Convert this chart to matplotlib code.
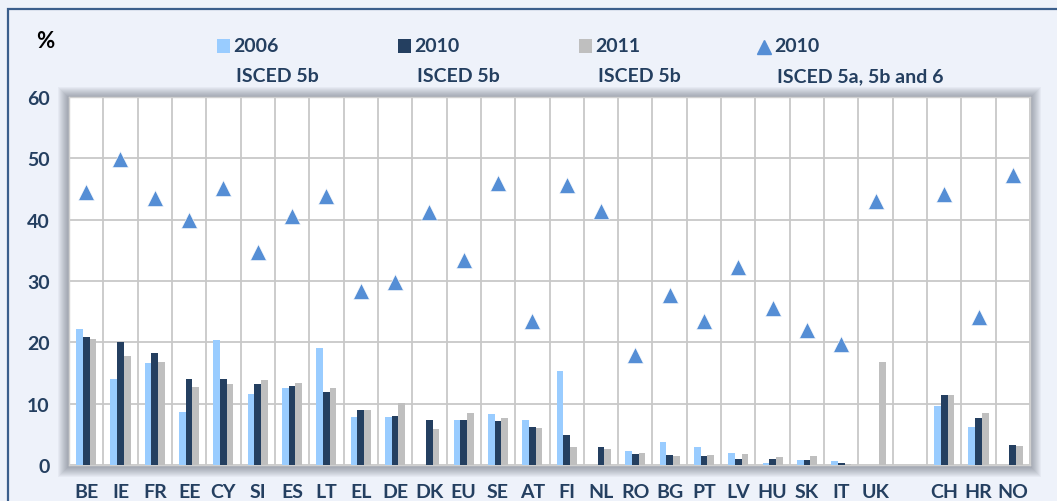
import matplotlib
matplotlib.use("Agg")
import matplotlib.pyplot as plt
import numpy as np
from matplotlib.patches import Rectangle
from matplotlib.lines import Line2D

nan = np.nan

# donnees
pays = ['BE', 'IE', 'FR', 'EE', 'CY', 'SI', 'ES', 'LT', 'EL', 'DE', 'DK', 'EU', 'SE', 'AT',
        'FI', 'NL', 'RO', 'BG', 'PT', 'LV', 'HU', 'SK', 'IT', 'UK', '', 'CH', 'HR', 'NO']
v2006 = [22.1, 14.0, 16.6, 8.7, 20.4, 11.6, 12.6, 19.0, 7.9, 7.9, nan, 7.3, 8.25, 7.3,
         15.4, nan, 2.3, 3.7, 2.9, 1.9, 0.3, 0.75, 0.65, nan, nan, 9.6, 6.2, nan]
v2010 = [20.8, 20.05, 18.25, 14.0, 14.0, 13.2, 12.8, 11.9, 9.0, 8.0, 7.4, 7.3, 7.2, 6.2,
         4.9, 2.9, 1.8, 1.6, 1.4, 1.0, 1.0, 0.75, 0.3, nan, nan, 11.4, 7.65, 3.3]
v2011 = [20.5, 17.8, 16.8, 12.7, 13.2, 13.9, 13.4, 12.6, 9.0, 10.05, 5.8, 8.5, 7.65, 6.1,
         3.0, 2.6, 1.9, 1.5, 1.7, 1.75, 1.25, 1.4, 0.2, 16.8, nan, 11.4, 8.5, 3.1]
tous2010 = [44.45, 49.9, 43.5, 40.0, 45.1, 34.8, 40.6, 43.8, 28.4, 29.8, 41.3, 33.4, 45.9, 23.5,
            45.7, 41.4, 18.0, 27.65, 23.5, 32.3, 25.65, 22.05, 19.75, 43.0, nan, 44.2, 24.2, 47.35]

yticks = [0, 10, 20, 30, 40, 50, 60]

c2006 = '#99CCFF'
c2010 = '#243F60'
c2011 = '#BFBFBF'
ctri = '#558ED5'
ctxt = '#243F60'
fond = '#EEF2FA'

plt.rcParams['font.family'] = ['Lato', 'DejaVu Sans']

W, H = 1057, 502
fig = plt.figure(figsize=(W / 100, H / 100), dpi=100, facecolor=fond)

# cadre exterieur
fig.patches.append(Rectangle((8 / W, -0.1), 1.2, 1.1 - 10 / H, transform=fig.transFigure,
                             fill=False, edgecolor='#3B5E8C', linewidth=1.6, zorder=-2))

left, right, top, bottom = 69, 1030, 98, 466
ax = fig.add_axes([left / W, 1 - bottom / H, (right - left) / W, (bottom - top) / H])
ax.set_zorder(2)

# ombre autour de la zone de trace
for i in range(1, 11):
    fig.patches.append(Rectangle(((left - i - 1) / W, 1 - (bottom + i + 2) / H),
                                 (right - left + 2 * i + 2) / W, (bottom - top + 2 * i + 2) / H,
                                 transform=fig.transFigure, facecolor='#303846',
                                 edgecolor='none', alpha=0.045, zorder=-1))

x = np.arange(len(pays))
w = 0.195
ax.bar(x - w, v2006, w, color=c2006, zorder=3)
ax.bar(x, v2010, w, color=c2010, zorder=3)
ax.bar(x + w, v2011, w, color=c2011, zorder=3)
ax.plot(x, tous2010, linestyle='none', marker='^', markersize=11, color=ctri,
        markeredgecolor='white', markeredgewidth=0.4, zorder=4)

ax.set_xlim(-0.5, len(pays) - 0.5)
ax.set_ylim(0, 60)
ax.set_facecolor('white')
ax.set_yticks(yticks)
ax.set_xticks(x)
ax.set_xticklabels(pays)
ax.set_xticks(np.arange(len(pays) + 1) - 0.5, minor=True)
ax.grid(True, which='minor', axis='x', color='#C8C8C8', linewidth=1.3, zorder=1)
ax.grid(True, which='major', axis='y', color='#C8C8C8', linewidth=1.3, zorder=1)
ax.tick_params(which='both', length=0)
ax.tick_params(axis='y', pad=14, labelsize=14, labelcolor=ctxt)
ax.tick_params(axis='x', pad=13, labelsize=14, labelcolor=ctxt)
for lab in ax.get_xticklabels() + ax.get_yticklabels():
    lab.set_fontweight('bold')
for s in ax.spines.values():
    s.set_color('#D0D0D0')
    s.set_linewidth(1)

# titre axe
fig.text(36 / W, 1 - 42 / H, '%', fontsize=16, fontweight='bold', color='black',
         va='center', ha='left')

# legende
leg = [(217, c2006, 's', '2006', 'ISCED 5b'),
       (398, c2010, 's', '2010', 'ISCED 5b'),
       (579, c2011, 's', '2011', 'ISCED 5b'),
       (758, ctri, '^', '2010', 'ISCED 5a, 5b and 6')]
for px, col, mk, l1, l2 in leg:
    if mk == 's':
        fig.patches.append(Rectangle((px / W, 1 - 54 / H), 13 / W, 14 / H,
                                     transform=fig.transFigure, facecolor=col, edgecolor='none'))
    else:
        fig.lines.append(Line2D([(px + 6) / W], [1 - 48 / H], transform=fig.transFigure,
                                marker='^', markersize=10, color=col, linestyle='none'))
    fig.text((px + 16) / W, 1 - 47 / H, l1, fontsize=14, fontweight='bold', color=ctxt,
             va='center', ha='left')
    fig.text((px + 19) / W, 1 - 77 / H, l2, fontsize=14, fontweight='bold', color=ctxt,
             va='center', ha='left')

fig.savefig('out.png', dpi=100, facecolor=fond)
